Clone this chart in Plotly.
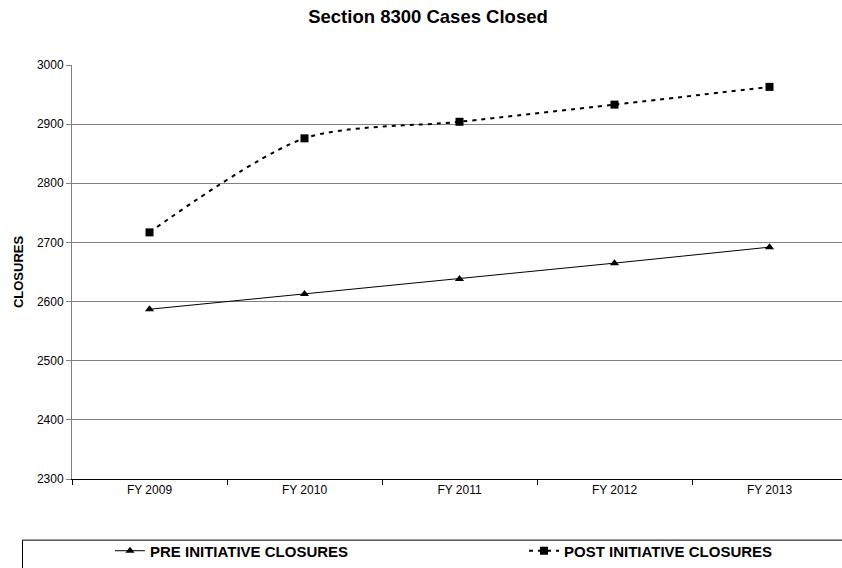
import plotly.graph_objects as go

categories = ["FY 2009", "FY 2010", "FY 2011", "FY 2012", "FY 2013"]
pre_closures = [2587, 2613, 2638, 2665, 2692]
post_closures = [2717, 2876, 2904, 2933, 2963]
y_ticks = [2300, 2400, 2500, 2600, 2700, 2800, 2900, 3000]

FONT = "Arial, 'Liberation Sans', sans-serif"

fig = go.Figure()
fig.add_trace(go.Scatter(
    x=categories, y=pre_closures, name="PRE INITIATIVE CLOSURES",
    mode="lines+markers",
    line=dict(color="black", width=1),
    marker=dict(symbol="triangle-up", size=8, color="black"),
    legend="legend", showlegend=True,
))
fig.add_trace(go.Scatter(
    x=categories, y=post_closures, name="POST INITIATIVE CLOSURES",
    mode="lines+markers",
    line=dict(color="black", width=2, dash="4px,5px", shape="spline", smoothing=0.8),
    marker=dict(symbol="square", size=8, color="black"),
    legend="legend2", showlegend=True,
))

W, H = 842, 568
L, R, T, B = 72, 0, 65, 83
pw = W - L - R
ph = H - T - B

def px_x(x):
    return (x - L) / pw

def px_y(y):
    return (H - B - y) / ph

legend_common = dict(
    orientation="h",
    font=dict(family=FONT, size=15, color="black", weight="bold"),
    bgcolor="rgba(0,0,0,0)",
    borderwidth=0,
    yanchor="middle",
    y=px_y(558),
    xanchor="left",
)

fig.update_layout(
    width=W, height=H,
    showlegend=True,
    margin=dict(l=L, r=R, t=T, b=B),
    paper_bgcolor="white",
    plot_bgcolor="white",
    font=dict(family=FONT, color="black"),
    title=dict(
        text="<b>Section 8300 Cases Closed</b>",
        font=dict(family=FONT, size=18.5, color="black"),
        x=428 / W, xanchor="center", xref="container",
        y=1 - 17 / H, yanchor="middle", yref="container",
    ),
    legend=dict(x=px_x(110), **legend_common),
    legend2=dict(x=px_x(524), **legend_common),
    shapes=[dict(
        type="rect", xref="paper", yref="paper",
        x0=px_x(22.5), x1=1.1, y0=px_y(547), y1=px_y(600),
        line=dict(color="black", width=1), fillcolor="rgba(0,0,0,0)",
        layer="below",
    )],
)

fig.update_xaxes(
    type="category",
    range=[-0.5, 4.5 - (847 - 842) / 155],
    tickson="boundaries",
    ticks="outside", ticklen=5, tickcolor="black",
    showline=True, linecolor="black", linewidth=1,
    showgrid=False,
    tickfont=dict(family=FONT, size=12, color="black"),
)
fig.update_yaxes(
    range=[2300, 3000],
    tickvals=y_ticks,
    ticks="outside", ticklen=5, tickcolor="#808080",
    showline=True, linecolor="#808080", linewidth=1,
    showgrid=True, gridcolor="#808080", gridwidth=1,
    zeroline=False,
    tickfont=dict(family=FONT, size=12, color="black"),
    title=dict(text="<b>CLOSURES</b>", font=dict(family=FONT, size=13, color="black"), standoff=10),
)

fig.write_html(
    "out.html",
    config={"displayModeBar": False},
    post_script="document.body.style.margin='0';document.body.style.overflow='hidden';",
)
